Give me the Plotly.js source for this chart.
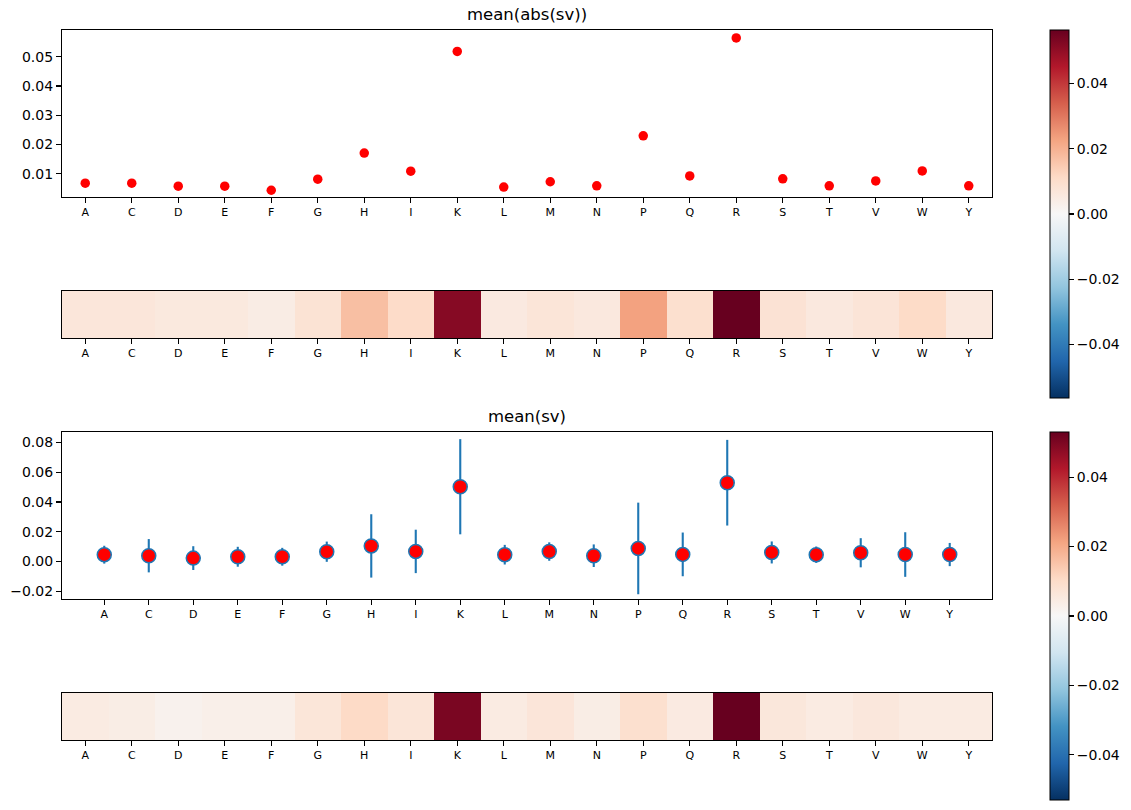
<!DOCTYPE html>
<html>
<head>
<meta charset="utf-8">
<script src="https://cdn.plot.ly/plotly-3.0.1.min.js"></script>
<style>
  html, body { margin: 0; padding: 0; background: #fff; }
  #plot { width: 1131px; height: 810px; }
</style>
</head>
<body>
<div id="plot"></div>
<script>
// ─── Data ─────────────────────────────────────────────────────────
const residues = ['A', 'C', 'D', 'E', 'F', 'G', 'H', 'I', 'K', 'L',
                  'M', 'N', 'P', 'Q', 'R', 'S', 'T', 'V', 'W', 'Y'];

// mean(abs(sv)) per residue
const meanAbs = [0.0068, 0.0068, 0.0058, 0.0058, 0.0044, 0.0082, 0.0171, 0.0109, 0.0518, 0.0055,
                 0.0073, 0.0059, 0.0230, 0.0093, 0.0564, 0.0083, 0.0059, 0.0076, 0.0110, 0.0059];

// mean(sv) per residue and its spread (error bar half-length)
const meanSv = [0.0046, 0.0039, 0.0023, 0.0032, 0.0032, 0.0066, 0.0105, 0.0068, 0.0503, 0.0046,
                0.0067, 0.0039, 0.0088, 0.0048, 0.0530, 0.0061, 0.0046, 0.0059, 0.0047, 0.0047];
const stdSv  = [0.0060, 0.0112, 0.0080, 0.0067, 0.0060, 0.0068, 0.0213, 0.0146, 0.0320, 0.0066,
                0.0062, 0.0076, 0.0308, 0.0147, 0.0288, 0.0074, 0.0055, 0.0098, 0.0150, 0.0078];

const absTicks  = [0.01, 0.02, 0.03, 0.04, 0.05];
const absLabels = ['0.01', '0.02', '0.03', '0.04', '0.05'];
const svTicks   = [-0.02, 0, 0.02, 0.04, 0.06, 0.08];
const svLabels  = ['\u22120.02', '0.00', '0.02', '0.04', '0.06', '0.08'];
const cbTicks   = [-0.04, -0.02, 0, 0.02, 0.04];
const cbLabels  = ['\u22120.04', '\u22120.02', '0.00', '0.02', '0.04'];

// matplotlib RdBu_r
const RDBU_R = [
    [0.0, '#053061'], [0.1, '#2166ac'], [0.2, '#4393c3'], [0.3, '#92c5de'],
    [0.4, '#d1e5f0'], [0.5, '#f7f7f7'], [0.6, '#fddbc7'], [0.7, '#f4a582'],
    [0.8, '#d6604d'], [0.9, '#b2182b'], [1.0, '#67001f']
];

// ─── Geometry (pixels → paper) ───────────────────────────────────
const W = 1131, H = 810;
const px = v => v / W;
const py = v => 1 - v / H;
const XDOM = [px(62), px(992)];
const FONT = 'DejaVu Sans, Liberation Sans, sans-serif';
const idx = residues.map((_, i) => i);

function frameAxis(extra) {
    return Object.assign({
        showline: true, mirror: true, linecolor: '#000', linewidth: 1.1,
        showgrid: false, zeroline: false,
        ticks: 'outside', ticklen: 5, tickwidth: 1.1, tickcolor: '#000',
        tickfont: { family: FONT, size: 14, color: '#000' }
    }, extra);
}

function catAxis(domainAnchor, range) {
    return frameAxis({
        domain: XDOM, anchor: domainAnchor, range: range,
        tickmode: 'array', tickvals: idx, ticktext: residues,
        tickfont: { family: FONT, size: 11, color: '#000' }
    });
}

function stripAxis(domain, anchor) {
    return frameAxis({ domain: domain, anchor: anchor, range: [-0.5, 0.5],
                       ticks: '', showticklabels: false });
}

function colorbar(topPx) {
    return {
        x: px(1050), xanchor: 'left', xpad: 0,
        y: py(topPx), yanchor: 'top', ypad: 0,
        len: 368 / H, lenmode: 'fraction',
        thickness: 19, thicknessmode: 'pixels',
        outlinewidth: 1, outlinecolor: '#000',
        ticks: 'outside', ticklen: 5, tickwidth: 1.1, tickcolor: '#000',
        tickmode: 'array', tickvals: cbTicks, ticktext: cbLabels,
        tickfont: { family: FONT, size: 14, color: '#000' }
    };
}

const absMax = Math.max(...meanAbs);
const svMax  = Math.max(...meanSv);

const data = [
    // mean(abs(sv)) scatter
    { x: idx, y: meanAbs, type: 'scatter', mode: 'markers',
      marker: { color: '#ff0000', size: 9.5, line: { width: 0 } },
      xaxis: 'x', yaxis: 'y', hoverinfo: 'x+y' },
    // strip of mean(abs(sv))
    { z: [meanAbs], x: idx, y: [0], type: 'heatmap',
      colorscale: RDBU_R, zmin: -absMax, zmax: absMax,
      colorbar: colorbar(30), xaxis: 'x2', yaxis: 'y2' },
    // mean(sv) with spread
    { x: idx, y: meanSv, type: 'scatter', mode: 'markers',
      error_y: { type: 'data', array: stdSv, visible: true,
                 color: '#1f77b4', thickness: 2.1, width: 0 },
      marker: { color: '#ff0000', size: 14, line: { color: '#1f77b4', width: 1.5 } },
      xaxis: 'x3', yaxis: 'y3' },
    // strip of mean(sv)
    { z: [meanSv], x: idx, y: [0], type: 'heatmap',
      colorscale: RDBU_R, zmin: -svMax, zmax: svMax,
      colorbar: colorbar(432), xaxis: 'x4', yaxis: 'y4' }
];

const layout = {
    width: W, height: H,
    margin: { l: 0, r: 0, t: 0, b: 0 },
    paper_bgcolor: '#fff', plot_bgcolor: '#fff',
    showlegend: false,
    font: { family: FONT, color: '#000' },

    xaxis:  catAxis('y', [-0.5, 19.5]),
    yaxis:  frameAxis({ domain: [py(197), py(30)], anchor: 'x', range: [0.0021, 0.0591],
                        tickmode: 'array', tickvals: absTicks, ticktext: absLabels }),

    xaxis2: catAxis('y2', [-0.5, 19.5]),
    yaxis2: stripAxis([py(338), py(291)], 'x2'),

    xaxis3: catAxis('y3', [-0.95, 19.95]),
    yaxis3: frameAxis({ domain: [py(599), py(432)], anchor: 'x3', range: [-0.0252, 0.0871],
                        tickmode: 'array', tickvals: svTicks, ticktext: svLabels }),

    xaxis4: catAxis('y4', [-0.5, 19.5]),
    yaxis4: stripAxis([py(740), py(693)], 'x4'),

    annotations: [
        { text: 'mean(abs(sv))', xref: 'paper', yref: 'paper',
          x: (XDOM[0] + XDOM[1]) / 2, y: py(30), xanchor: 'center', yanchor: 'bottom',
          yshift: 4, showarrow: false, font: { family: FONT, size: 16.5, color: '#000' } },
        { text: 'mean(sv)', xref: 'paper', yref: 'paper',
          x: (XDOM[0] + XDOM[1]) / 2, y: py(432), xanchor: 'center', yanchor: 'bottom',
          yshift: 4, showarrow: false, font: { family: FONT, size: 16.5, color: '#000' } }
    ]
};

Plotly.newPlot('plot', data, layout, { displayModeBar: false, staticPlot: true });
</script>
</body>
</html>
